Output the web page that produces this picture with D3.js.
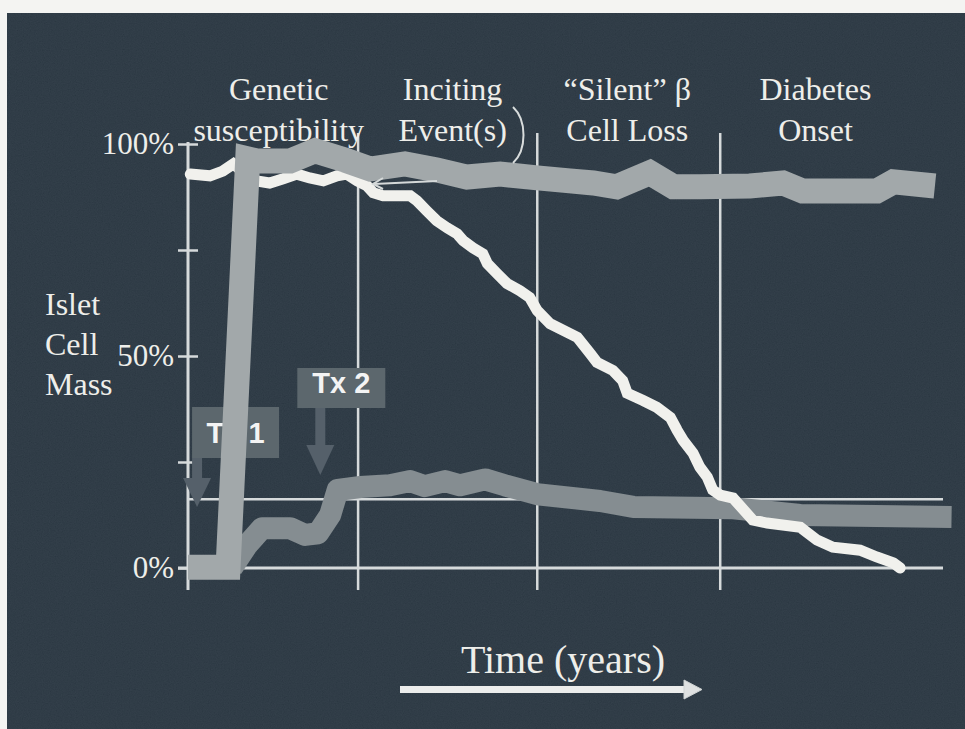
<!DOCTYPE html>
<html>
<head>
<meta charset="utf-8">
<script src="https://cdn.jsdelivr.net/npm/d3@7"></script>
<style>
  html, body { margin: 0; background: #f4f4f2; }
  svg { display: block; }
</style>
</head>
<body>
<svg id="chart" width="965" height="729"></svg>
<script>
// ---- data -------------------------------------------------------------
const timeDomain = [0, 100];                 // arbitrary time units (years, unscaled)
const massTicks = [0, 25, 50, 75, 100];      // % islet cell mass
const massTickLabels = ["0%", "", "50%", "", "100%"];
const thresholdMass = 16.2;                  // level below which diabetes appears

const phaseBounds = [22.5, 46.2, 70.4];
const phaseNames = [
  ["Genetic", "susceptibility"],
  ["Inciting", "Event(s)"],
  ["\u201CSilent\u201D \u03B2", "Cell Loss"],
  ["Diabetes", "Onset"]
];
const phaseLabelTimes = [12, 35, 58.1, 83];

// natural history: progressive beta cell loss
const naturalCourse = [
  [0.3, 92.9], [2.9, 92.5], [4.6, 93.6], [6.0, 95.3], [7.5, 93.0], [9.1, 91.3],
  [10.8, 90.8], [12.6, 91.8], [14.4, 92.9], [16.1, 92.0], [17.9, 91.3], [19.7, 92.5],
  [21.0, 92.9], [22.4, 91.3], [23.7, 90.1], [24.5, 88.5], [25.8, 87.8], [29.4, 87.8],
  [30.3, 86.6], [31.6, 84.2], [32.9, 81.9], [34.3, 80.2], [35.6, 78.8], [36.4, 77.2],
  [37.7, 75.5], [39.0, 74.1], [39.6, 71.8], [40.9, 69.4], [42.2, 67.1], [43.9, 65.4],
  [45.2, 63.8], [46.2, 60.7], [47.9, 57.6], [51.5, 54.4], [53.2, 50.6], [54.1, 48.5],
  [56.2, 46.6], [57.5, 44.2], [58.1, 41.2], [60.2, 39.5], [62.0, 37.9], [63.8, 35.5],
  [64.7, 32.5], [65.5, 30.1], [66.8, 27.1], [67.7, 23.8], [68.7, 21.4], [69.4, 18.4],
  [70.4, 17.2], [72.1, 16.5], [74.7, 11.3], [76.6, 10.6], [81.0, 9.6], [83.2, 6.6],
  [85.3, 4.9], [88.9, 4.2], [91.1, 2.6], [93.3, 1.2], [94.2, 0]
];

// course with therapy 1 (started before onset of susceptibility)
const tx1Course = [
  [0, 0.2], [5.3, 0.2], [7.9, 96.5], [9.1, 96.0], [13.5, 96.0], [16.8, 98.4],
  [20.8, 96.2], [24.1, 94.1], [28.7, 95.3], [32.9, 93.9], [36.9, 92.2], [41.3, 92.9],
  [46.2, 92.0], [50.5, 91.3], [53.6, 90.8], [56.7, 89.9], [61.1, 93.2], [64.2, 89.9],
  [67.7, 89.9], [74.3, 90.1], [78.7, 90.8], [81.3, 88.9], [91.1, 88.9], [93.3, 91.1],
  [98.8, 90.1]
];

// course with therapy 2 (islet replacement)
const tx2Course = [
  [5.8, 0], [7.8, 5.4], [9.8, 9.4], [13.5, 9.4], [15.5, 7.8], [17.2, 8.2],
  [18.8, 12.5], [19.8, 18.4], [22.8, 19.1], [26.7, 19.5], [29.4, 20.5], [31.3, 19.3],
  [34.0, 20.5], [36.0, 19.5], [39.3, 20.9], [41.9, 19.5], [46.2, 17.4], [54.5, 15.8],
  [58.9, 14.4], [72.1, 14.1], [81.0, 12.5], [101, 12.0]
];

const treatmentNames = ["Tx 1", "Tx 2"];
const treatmentTimes = [1.2, 17.5];

// ---- layout -----------------------------------------------------------
const svg = d3.select("#chart");
const W = 965, H = 729;
const x = d3.scaleLinear().domain(timeDomain).range([188, 944]);
const y = d3.scaleLinear().domain([0, 100]).range([568, 144]);

const serif = "'Liberation Serif', 'Times New Roman', Times, serif";
const sans = "'Liberation Sans', Arial, Helvetica, sans-serif";
const ink = "#eeeeea";
const gridInk = "#d6dadb";

// background panel with a slight grain
const defs = svg.append("defs");
const grain = defs.append("filter").attr("id", "grain")
  .attr("x", 0).attr("y", 0).attr("width", "100%").attr("height", "100%");
grain.append("feTurbulence").attr("type", "fractalNoise")
  .attr("baseFrequency", 0.85).attr("numOctaves", 2).attr("seed", 7);
grain.append("feColorMatrix").attr("type", "matrix")
  .attr("values", "0.33 0.33 0.33 0 0  0.33 0.33 0.33 0 0  0.33 0.33 0.33 0 0  0 0 0 0 1");

svg.append("rect").attr("x", 7).attr("y", 13).attr("width", W - 7).attr("height", H - 13)
  .attr("fill", "#1f2d39");
svg.append("rect").attr("x", 7).attr("y", 13).attr("width", W - 7).attr("height", H - 13)
  .attr("filter", "url(#grain)").attr("opacity", 0.11);

// ---- grid & axis ------------------------------------------------------
const grid = svg.append("g");
// zero line
grid.append("line")
  .attr("x1", x(0) - 10).attr("x2", x(100) - 1)
  .attr("y1", y(0)).attr("y2", y(0))
  .attr("stroke", gridInk).attr("stroke-width", 3);
// diabetes threshold
grid.append("line")
  .attr("x1", x(0)).attr("x2", x(100) - 1)
  .attr("y1", y(thresholdMass)).attr("y2", y(thresholdMass))
  .attr("stroke", gridInk).attr("stroke-width", 2.5);
// phase separators
grid.selectAll("line.phase").data(phaseBounds).join("line")
  .attr("class", "phase")
  .attr("x1", d => x(d)).attr("x2", d => x(d))
  .attr("y1", 133).attr("y2", 590)
  .attr("stroke", gridInk).attr("stroke-width", 2.5);

// y axis drawn with d3.axisLeft, then restyled
const yAxis = d3.axisLeft(y).tickValues(massTicks)
  .tickSize(0).tickFormat((d, i) => massTickLabels[i]).tickPadding(14);
const axisG = svg.append("g").attr("transform", `translate(${x(0)},0)`).call(yAxis);
axisG.select(".domain").remove();
axisG.selectAll(".tick text")
  .attr("font-family", serif).attr("font-size", 31).attr("fill", ink)
  .attr("dy", "0.3em");
axisG.selectAll(".tick").append("line")
  .attr("x1", -10).attr("x2", d => d === 0 ? 0 : 10)
  .attr("stroke", gridInk).attr("stroke-width", 2.5);
axisG.append("line").attr("x1", 0).attr("x2", 0).attr("y1", y(100) - 2).attr("y2", 590)
  .attr("stroke", gridInk).attr("stroke-width", 3);

// y title
svg.append("text").attr("font-family", serif).attr("font-size", 32).attr("fill", ink)
  .selectAll("tspan").data(["Islet", "Cell", "Mass"]).join("tspan")
  .attr("x", 45).attr("y", (d, i) => 315 + i * 40).text(d => d);

// phase titles
const titles = svg.append("g").attr("font-family", serif).attr("font-size", 32)
  .attr("fill", ink).attr("text-anchor", "middle");
phaseNames.forEach((lines, i) => {
  titles.append("text").selectAll("tspan").data(lines).join("tspan")
    .attr("x", x(phaseLabelTimes[i])).attr("y", (d, j) => 100 + j * 41).text(d => d);
});

// ---- courses ----------------------------------------------------------
const line = d3.line().x(d => x(d[0])).y(d => y(d[1]));

svg.append("path").datum(tx2Course).attr("d", line)
  .attr("fill", "none").attr("stroke", "#858d91").attr("stroke-width", 22)
  .attr("stroke-linejoin", "round").attr("stroke-linecap", "butt");

svg.append("path").datum(naturalCourse).attr("d", line)
  .attr("fill", "none").attr("stroke", "#f1f1ed").attr("stroke-width", 11)
  .attr("stroke-linejoin", "miter").attr("stroke-linecap", "round");

// treatment call-outs
const boxLayout = [
  { left: -5, top: 407, w: 87, h: 51, shaftEnd: 478, tip: 507, baseline: 443 },
  { left: -23, top: 368, w: 88, h: 40, shaftEnd: 445, tip: 475, baseline: 393 }
];
treatmentNames.forEach((name, i) => {
  const L = boxLayout[i];
  const ax = x(treatmentTimes[i]);
  const g = svg.append("g");
  g.append("rect").attr("x", ax + L.left).attr("y", L.top)
    .attr("width", L.w).attr("height", L.h).attr("fill", "#5c676d");
  g.append("rect").attr("x", ax - 5).attr("y", L.top + L.h)
    .attr("width", 10).attr("height", L.shaftEnd - L.top - L.h).attr("fill", "#55606a");
  g.append("path")
    .attr("d", `M${ax - 14},${L.shaftEnd}L${ax + 14},${L.shaftEnd}L${ax},${L.tip}Z`)
    .attr("fill", "#55606a");
  g.append("text").attr("x", ax + L.left + L.w / 2).attr("y", L.baseline)
    .attr("text-anchor", "middle").attr("font-family", sans).attr("font-weight", "bold")
    .attr("font-size", 29).attr("fill", "#f4f4f4").text(name);
});

svg.append("path").datum(tx1Course).attr("d", line)
  .attr("fill", "none").attr("stroke", "#a2a8aa").attr("stroke-width", 25)
  .attr("stroke-linejoin", "miter").attr("stroke-miterlimit", 10)
  .attr("stroke-linecap", "butt");

// pointer from the inciting-event bracket to the natural course
svg.append("path").attr("d", "M437,181 L374,184")
  .attr("stroke", "#d5d9d9").attr("stroke-width", 2).attr("fill", "none");
svg.append("path").attr("d", "M383,178 L373,184 L383,189")
  .attr("stroke", "#d5d9d9").attr("stroke-width", 2).attr("fill", "none");
svg.append("path").attr("d", "M513,107 C527,120 527,150 513,163")
  .attr("stroke", "#d8dcdc").attr("stroke-width", 2).attr("fill", "none");

// ---- time arrow -------------------------------------------------------
svg.append("text").attr("x", 563).attr("y", 673).attr("text-anchor", "middle")
  .attr("font-family", serif).attr("font-size", 40).attr("fill", ink).text("Time (years)");
svg.append("rect").attr("x", 400).attr("y", 686).attr("width", 288).attr("height", 7)
  .attr("fill", "#ecedec");
svg.append("path").attr("d", "M684,680 L702,689.5 L684,699 Z")
  .attr("fill", "#dfe1e1").attr("stroke", "#cfd3d3").attr("stroke-width", 1);
</script>
</body>
</html>
